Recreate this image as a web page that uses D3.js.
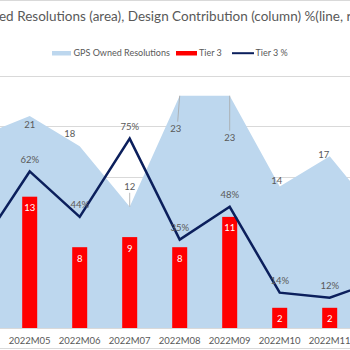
<!DOCTYPE html>
<html>
<head>
<meta charset="utf-8">
<script src="https://cdn.jsdelivr.net/npm/d3@7"></script>
<style>
  html, body { margin: 0; padding: 0; background: #fff; }
  svg { display: block; font-family: Lato, "Liberation Sans", sans-serif; }
</style>
</head>
<body>
<div class="container"></div>
<script>
/* Data */
const categories = ['2022M04', '2022M05', '2022M06', '2022M07', '2022M08', '2022M09', '2022M10', '2022M11', '2022M12'];
// GPS owned resolutions (area, left axis)
const gpsOwned = [19, 21, 18, 12, 23, 23, 14, 17, 11];
// Tier 3 design contribution (columns, left axis) -- edge months are off-screen
const tier3 = [null, 13, 8, 9, 8, 11, 2, 2, null];
// Tier 3 % (line, right axis)
const tier3Pct = [0.32, 0.62, 0.44, 0.75, 0.35, 0.48, 0.14, 0.12, 0.19];
const legendLabels = ['GPS Owned Resolutions', 'Tier 3', 'Tier 3 %'];
const title = 'GPS Owned Resolutions (area), Design Contribution (column) %(line, right axis)';

/* Params */
const width = 350;
const height = 350;
const plotTop = 75.5;
const plotBottom = 328;
const bandStep = 50;
const firstCenter = -20.3;
const barWidth = 15;

/* Colors */
const areaColor = '#bdd7ee';
const barColor = '#ff0000';
const lineColor = '#0b1f5c';
const textColor = '#595959';
const gridColor = '#d9d9d9';

// label offsets for the area values (dx, dy from the point), placed by hand like in Excel
const areaLabelOffsets = [[0, 9], [0, 9], [-10, -13], [0, -20], [-4, 33], [0, 42], [-3, -6], [-6, -2], [0, -9]];

const svg = d3.select('.container')
    .append('svg')
    .attr('width', width)
    .attr('height', height);

const x = d3.scaleBand()
    .domain(categories)
    .range([firstCenter - bandStep / 2, firstCenter - bandStep / 2 + bandStep * categories.length])
    .padding(0);
const cx = c => x(c) + x.bandwidth() / 2;
// only months whose centre is inside the visible crop get labels
const visible = i => cx(categories[i]) > 0 && cx(categories[i]) < width;

const y = d3.scaleLinear().domain([0, 25]).range([plotBottom, plotTop]);
const y2 = d3.scaleLinear().domain([0, 1]).range([plotBottom, plotTop]);

// outer border lines (chart is cropped at left/right)
svg.append('line').attr('x1', 0).attr('x2', width).attr('y1', 0.5).attr('y2', 0.5)
    .attr('stroke', gridColor);
svg.append('line').attr('x1', 0).attr('x2', width).attr('y1', height - 1.5).attr('y2', height - 1.5)
    .attr('stroke', gridColor);

// gridlines
svg.append('g')
    .selectAll('line')
    .data(y.ticks(5))
    .join('line')
    .attr('x1', 0).attr('x2', width)
    .attr('y1', d => Math.round(y(d)) + 0.5)
    .attr('y2', d => Math.round(y(d)) + 0.5)
    .attr('stroke', gridColor)
    .attr('stroke-width', 1);

// area
const area = d3.area()
    .x((d, i) => cx(categories[i]))
    .y0(y(0))
    .y1(d => y(d));
svg.append('path')
    .datum(gpsOwned)
    .attr('d', area)
    .attr('fill', areaColor);

// bars
const barData = categories.map((c, i) => ({ c, v: tier3[i] })).filter(d => d.v !== null);
svg.append('g')
    .selectAll('rect')
    .data(barData)
    .join('rect')
    .attr('x', d => cx(d.c) - barWidth / 2)
    .attr('y', d => y(d.v))
    .attr('width', barWidth)
    .attr('height', d => y(0) - y(d.v))
    .attr('fill', barColor);

svg.append('g')
    .selectAll('text')
    .data(barData)
    .join('text')
    .attr('x', d => cx(d.c))
    .attr('y', d => y(d.v) + 14.5)
    .attr('text-anchor', 'middle')
    .attr('font-size', 9.5)
    .attr('fill', '#fff')
    .text(d => d.v);

// line
const line = d3.line()
    .x((d, i) => cx(categories[i]))
    .y(d => y2(d));
svg.append('path')
    .datum(tier3Pct)
    .attr('d', line)
    .attr('fill', 'none')
    .attr('stroke', lineColor)
    .attr('stroke-width', 2.5)
    .attr('stroke-linejoin', 'miter');

const pctIdx = d3.range(tier3Pct.length).filter(visible);
svg.append('g')
    .selectAll('text')
    .data(pctIdx)
    .join('text')
    .attr('x', i => cx(categories[i]))
    .attr('y', i => y2(tier3Pct[i]) - 8.5)
    .attr('text-anchor', 'middle')
    .attr('font-size', 9.5)
    .attr('fill', textColor)
    .text(i => Math.round(tier3Pct[i] * 100) + '%');

// area labels with leader lines
svg.append('g')
    .selectAll('line')
    .data([3, 4, 5])
    .join('line')
    .attr('x1', i => cx(categories[i]))
    .attr('y1', i => y(gpsOwned[i]))
    .attr('x2', i => cx(categories[i]) + areaLabelOffsets[i][0] + (i === 4 ? 2 : 0))
    .attr('y2', i => y(gpsOwned[i]) + areaLabelOffsets[i][1] + (areaLabelOffsets[i][1] > 0 ? -7 : 6))
    .attr('stroke', '#a6a6a6')
    .attr('stroke-width', 0.8);

const areaIdx = d3.range(gpsOwned.length).filter(visible);
svg.append('g')
    .selectAll('text')
    .data(areaIdx)
    .join('text')
    .attr('x', i => cx(categories[i]) + areaLabelOffsets[i][0])
    .attr('y', i => y(gpsOwned[i]) + areaLabelOffsets[i][1] + 3.3)
    .attr('text-anchor', 'middle')
    .attr('font-size', 9.5)
    .attr('fill', textColor)
    .text(i => gpsOwned[i]);

// x axis labels
svg.append('g')
    .selectAll('text')
    .data(categories.filter((c, i) => visible(i)))
    .join('text')
    .attr('x', d => cx(d))
    .attr('y', 343.5)
    .attr('text-anchor', 'middle')
    .attr('font-size', 9.5)
    .attr('fill', textColor)
    .text(d => d);

// title, cropped on the left
const titleText = svg.append('text')
    .attr('y', 21)
    .attr('font-size', 13.5)
    .attr('fill', textColor)
    .text(title);
const cut = titleText.node().getSubStringLength(0, 7);
titleText.attr('x', -cut - 1);

// legend
const legend = svg.append('g').attr('font-size', 9).attr('fill', textColor);
legend.append('rect').attr('x', 52).attr('y', 51).attr('width', 19).attr('height', 4.5).attr('fill', areaColor);
legend.append('text').attr('x', 73.5).attr('y', 56).text(legendLabels[0]);
legend.append('rect').attr('x', 176).attr('y', 51).attr('width', 21).attr('height', 4.5).attr('fill', barColor);
legend.append('text').attr('x', 199).attr('y', 56).text(legendLabels[1]);
legend.append('line').attr('x1', 232).attr('x2', 254).attr('y1', 53.2).attr('y2', 53.2)
    .attr('stroke', lineColor).attr('stroke-width', 2);
legend.append('text').attr('x', 255.5).attr('y', 56).text(legendLabels[2]);
</script>
</body>
</html>
